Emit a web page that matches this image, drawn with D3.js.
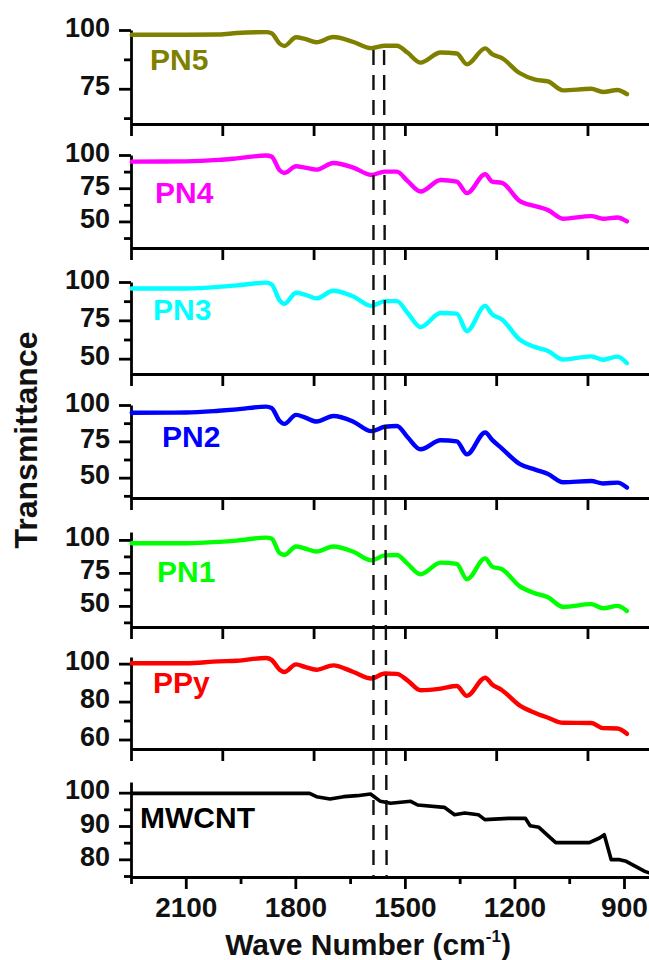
<!DOCTYPE html>
<html>
<head>
<meta charset="utf-8">
<script src="https://cdn.jsdelivr.net/npm/d3@7"></script>
<style>
  body { margin: 0; background: #fff; }
  text { font-family: "Liberation Sans", Arial, sans-serif; font-weight: bold; }
</style>
</head>
<body>
<div id="chart"></div>
<script>
// shared wave numbers (cm-1) for the polymer spectra
const waveNumbers = [2248, 2100, 2010, 1960, 1880, 1865, 1843, 1830, 1798, 1774, 1742, 1696, 1641, 1592, 1555, 1522,
  1493, 1457, 1402, 1358, 1330, 1280, 1261, 1234, 1186, 1143, 1108, 1067, 990, 957, 918, 892];

const pn5 = [98.0, 98.0, 98.1, 98.7, 99.1, 98.6, 94.2, 93.2, 96.9, 96.2, 94.8, 97.0, 94.9, 92.3, 93.3, 93.3,
  90.4, 86.1, 90.4, 90.0, 85.4, 92.2, 89.7, 88.0, 81.7, 78.9, 78.1, 74.3, 75.0, 73.6, 74.5, 72.7];
const pn4 = [95.0, 95.2, 96.3, 97.5, 99.6, 98.8, 88.5, 86.5, 91.5, 90.5, 89.0, 94.0, 90.5, 85.0, 87.5, 87.5,
  80.5, 72.5, 81.2, 80.0, 71.3, 85.5, 80.0, 79.0, 65.5, 61.5, 58.5, 52.0, 54.0, 52.0, 53.0, 50.0];
const pn3 = [95.8, 95.8, 96.8, 97.8, 99.6, 98.5, 88.0, 85.8, 93.0, 91.8, 89.3, 94.3, 90.5, 84.4, 87.5, 87.5,
  80.0, 70.6, 79.8, 79.4, 68.0, 84.4, 78.9, 75.6, 62.5, 57.5, 55.0, 49.5, 51.5, 49.3, 51.3, 47.0];
const pn2 = [94.7, 94.8, 96.0, 97.0, 98.9, 98.0, 89.0, 87.0, 93.2, 91.5, 88.6, 92.4, 88.5, 82.0, 85.0, 85.6,
  78.0, 69.5, 75.7, 75.0, 66.0, 81.1, 76.0, 70.0, 59.5, 55.5, 52.5, 46.8, 47.7, 46.0, 46.6, 43.2];
const pn1 = [97.5, 97.5, 98.5, 99.5, 101.7, 101.0, 90.0, 88.6, 95.0, 93.5, 91.2, 95.0, 91.0, 84.5, 88.3, 88.6,
  82.0, 74.0, 82.8, 81.8, 70.2, 86.0, 79.8, 77.8, 65.0, 59.5, 56.5, 49.2, 51.3, 48.2, 50.0, 46.2];
const ppy = [100.2, 100.2, 101.2, 101.5, 103.0, 102.0, 96.8, 95.6, 99.6, 98.3, 96.8, 99.1, 95.6, 92.2, 94.8, 94.6,
  91.2, 86.0, 86.8, 88.2, 83.0, 92.6, 89.0, 86.0, 78.0, 74.0, 71.5, 68.8, 68.7, 66.0, 65.8, 63.0];

// MWCNT has its own sampling
const mwcntWaves = [2248, 1761, 1742, 1705, 1668, 1631, 1594, 1567, 1539, 1484, 1465, 1392, 1364, 1336, 1299, 1281,
  1216, 1170, 1157, 1133, 1087, 1059, 995, 967, 954, 935, 912, 894, 843, 833];
const mwcnt = [99.8, 99.8, 98.8, 98.1, 98.8, 99.1, 99.6, 97.4, 96.8, 97.4, 96.3, 95.6, 93.4, 93.9, 93.4, 91.9,
  92.3, 92.3, 90.1, 89.6, 85.0, 85.0, 85.0, 86.4, 87.4, 79.9, 79.9, 79.4, 76.4, 76.0];

const seriesNames = ["PN5", "PN4", "PN3", "PN2", "PN1", "PPy", "MWCNT"];
const bottomTicks = [2100, 1800, 1500, 1200, 900];
const bottomMinor = [2250, 1950, 1650, 1350, 1050];
const upperTicks = [2250, 2000, 1750, 1500, 1250, 1000];
const dashedTop = [1586, 1557];
const dashedBottom = [1586, 1550];

const colors = ["#808000", "#ff00ff", "#00ffff", "#0000ff", "#00ff00", "#ff0000", "#000000"];

// panel layout (pixels) and y-axis setup
const panels = [
  { values: pn5, waves: waveNumbers, domain: [60, 100], top: 30, bottom: 124,
    major: [75, 100], minor: [62.5, 87.5], lx: 150, ly: 70 },
  { values: pn4, waves: waveNumbers, domain: [30, 100], top: 155, bottom: 248,
    major: [50, 75, 100], minor: [37.5, 62.5, 87.5], lx: 155, ly: 203 },
  { values: pn3, waves: waveNumbers, domain: [40, 100], top: 282, bottom: 374,
    major: [50, 75, 100], minor: [62.5, 87.5], lx: 153, ly: 320 },
  { values: pn2, waves: waveNumbers, domain: [36, 100], top: 405, bottom: 498,
    major: [50, 75, 100], minor: [37.5, 62.5, 87.5], lx: 162, ly: 447 },
  { values: pn1, waves: waveNumbers, domain: [34, 106], top: 532, bottom: 627,
    major: [50, 75, 100], minor: [37.5, 62.5, 87.5], lx: 157, ly: 582 },
  { values: ppy, waves: waveNumbers, domain: [55, 103.5], top: 657, bottom: 749,
    major: [60, 80, 100], minor: [70, 90], lx: 153, ly: 693 },
  { values: mwcnt, waves: mwcntWaves, domain: [74.7, 103.2], top: 782, bottom: 877,
    major: [80, 90, 100], minor: [75, 85, 95], lx: 140, ly: 828 }
];

const W = 649, H = 960;
const svg = d3.select("#chart").append("svg")
  .attr("width", W).attr("height", H);

const x = d3.scaleLinear().domain([2250, 800]).range([131, 660.5]);

panels.forEach((p, i) => {
  const y = d3.scaleLinear().domain(p.domain).range([p.bottom, p.top]);
  const last = i === panels.length - 1;

  // Y axis
  const yAxis = svg.append("g")
    .attr("transform", "translate(131,0)")
    .call(d3.axisLeft(y).tickValues(p.major).tickSize(12).tickSizeOuter(0).tickPadding(9)
      .tickFormat(d3.format("d")));
  yAxis.selectAll("text").attr("dy", "0.37em").attr("y", -4)
    .style("font-size", "27px").attr("fill", "#111");
  svg.append("g")
    .attr("transform", "translate(131,0)")
    .call(d3.axisLeft(y).tickValues(p.minor).tickSize(7).tickSizeOuter(0).tickFormat(""))
    .select(".domain").remove();

  // X axis
  const xAxis = svg.append("g")
    .attr("transform", `translate(0,${p.bottom})`)
    .call(d3.axisBottom(x).tickValues(last ? bottomTicks : upperTicks).tickSize(12).tickSizeOuter(0)
      .tickPadding(8).tickFormat(last ? d3.format("d") : ""));
  xAxis.selectAll("text").style("font-size", "28px").attr("fill", "#111");
  if (last) {
    svg.append("g")
      .attr("transform", `translate(0,${p.bottom})`)
      .call(d3.axisBottom(x).tickValues(bottomMinor).tickSize(7).tickSizeOuter(0).tickFormat(""))
      .select(".domain").remove();
  }

  svg.selectAll(".domain, .tick line").attr("stroke", "#000").attr("stroke-width", 2.8);

  // spectrum
  const pts = p.waves.map((w, k) => [w, p.values[k]]);
  svg.append("path")
    .datum(pts)
    .attr("fill", "none")
    .attr("stroke", colors[i])
    .attr("stroke-width", last ? 3.6 : 4.4)
    .attr("stroke-linejoin", "round")
    .attr("stroke-linecap", "round")
    .attr("d", d3.line().x(d => x(d[0])).y(d => y(d[1]))
      .curve(last ? d3.curveLinear : d3.curveMonotoneX));

  svg.append("text")
    .attr("x", p.lx).attr("y", p.ly)
    .attr("fill", colors[i])
    .style("font-size", "30px")
    .text(seriesNames[i]);
});

// dashed marker lines
svg.selectAll(".marker")
  .data(dashedTop)
  .join("line")
  .attr("class", "marker")
  .attr("x1", d => x(d)).attr("x2", (d, k) => x(dashedBottom[k]))
  .attr("y1", 50).attr("y2", 877)
  .attr("stroke", "#111")
  .attr("stroke-width", 2.4)
  .attr("stroke-dasharray", "15,10");

// axis titles
svg.append("text")
  .attr("transform", "translate(37,440) rotate(-90)")
  .attr("text-anchor", "middle")
  .attr("fill", "#111")
  .style("font-size", "32px")
  .text("Transmittance");

const xt = svg.append("text")
  .attr("x", 368).attr("y", 955)
  .attr("text-anchor", "middle")
  .attr("fill", "#111")
  .style("font-size", "30px");
xt.append("tspan").text("Wave Number (cm");
xt.append("tspan").attr("dy", -13).style("font-size", "17px").text("-1");
xt.append("tspan").attr("dy", 13).text(")");
</script>
</body>
</html>
